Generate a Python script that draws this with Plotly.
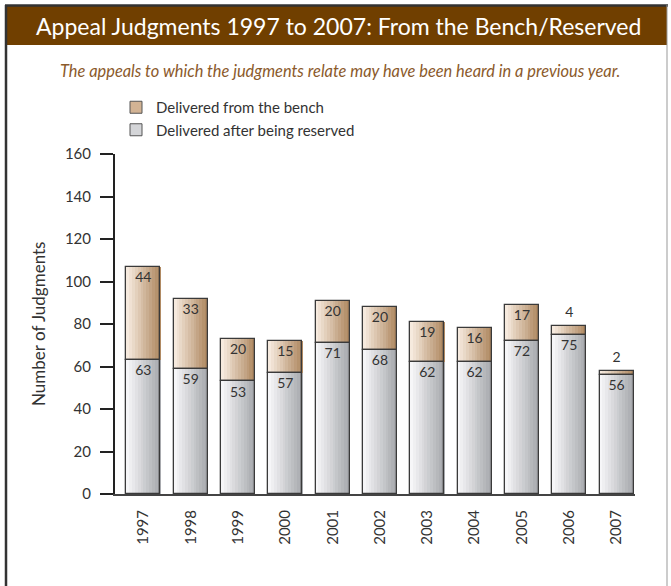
import plotly.graph_objects as go

years = [1997, 1998, 1999, 2000, 2001, 2002, 2003, 2004, 2005, 2006, 2007]
reserved = [63, 59, 53, 57, 71, 68, 62, 62, 72, 75, 56]
bench = [44, 33, 20, 15, 20, 20, 19, 16, 17, 4, 2]
totals = [r + b for r, b in zip(reserved, bench)]

W, H = 671, 586
L, R, T, B = 115, 36, 154, 92
FONT = "Lato"
BAR_W = 0.72
N_SLICES = 12


def px(x):
    return (x - L) / (W - L - R)


def py(y):
    return (H - B - y) / (H - T - B)


def mix(c1, c2, t):
    return "rgb({},{},{})".format(*[round(a + (b - a) * t) for a, b in zip(c1, c2)])


bench_cols = ((246, 234, 222), (176, 138, 99))
res_cols = ((246, 246, 248), (168, 170, 174))

fig = go.Figure()

# gradient fills, drawn as thin slices of each bar
for vals, base, cols in [(reserved, None, res_cols), (bench, reserved, bench_cols)]:
    for i in range(N_SLICES):
        t = i / (N_SLICES - 1)
        fig.add_trace(go.Bar(
            x=years, y=vals, base=base,
            width=BAR_W / N_SLICES * 1.08,
            offset=-BAR_W / 2 + i * BAR_W / N_SLICES,
            marker=dict(color=mix(cols[0], cols[1], t), line=dict(width=0)),
            showlegend=False, hoverinfo="skip",
        ))

# outlines
for vals, base in [(reserved, None), (bench, reserved)]:
    fig.add_trace(go.Bar(
        x=years, y=vals, base=base, width=BAR_W,
        marker=dict(color="rgba(0,0,0,0)", line=dict(color="#3a3a3a", width=1.3)),
        showlegend=False, hoverinfo="skip",
    ))

# legend entries
fig.add_trace(go.Bar(x=[None], y=[None], name="Delivered from the bench",
                     marker=dict(color="#d2b394", line=dict(color="#555", width=1))))
fig.add_trace(go.Bar(x=[None], y=[None], name="Delivered after being reserved",
                     marker=dict(color="#d4d5d8", line=dict(color="#555", width=1))))

# value labels
fig.add_trace(go.Scatter(
    x=years, y=[r - 5.5 for r in reserved], text=[str(v) for v in reserved],
    mode="text", textfont=dict(size=14, color="#333", family=FONT),
    showlegend=False, hoverinfo="skip",
))
fig.add_trace(go.Scatter(
    x=years, y=[t - 5.5 if b >= 10 else t + 6 for t, b in zip(totals, bench)],
    text=[str(v) for v in bench],
    mode="text", textfont=dict(size=14, color="#333", family=FONT),
    showlegend=False, hoverinfo="skip",
))

shapes = [
    dict(type="rect", xref="paper", yref="paper", x0=px(6), x1=px(667), y0=py(45), y1=py(6),
         fillcolor="#703f00", line=dict(width=0)),
    dict(type="line", xref="paper", yref="paper", x0=px(5), x1=px(668), y0=py(5.5), y1=py(5.5),
         line=dict(color="#333", width=2.5)),
    dict(type="line", xref="paper", yref="paper", x0=px(6), x1=px(6), y0=py(5), y1=py(590),
         line=dict(color="#333", width=2.5)),
    dict(type="line", xref="paper", yref="paper", x0=px(667), x1=px(667), y0=py(5), y1=py(590),
         line=dict(color="#999", width=1)),
]

fig.update_layout(
    width=W, height=H,
    margin=dict(l=L, r=R, t=T, b=B),
    barmode="overlay",
    bargap=0,
    paper_bgcolor="white", plot_bgcolor="white",
    font=dict(family=FONT, color="#333"),
    shapes=shapes,
    annotations=[
        dict(text="Appeal Judgments 1997 to 2007: From the Bench/Reserved",
             xref="paper", yref="paper", x=px(338), y=py(26), showarrow=False,
             xanchor="center", yanchor="middle",
             font=dict(size=23, color="white", family=FONT)),
        dict(text="<i>The appeals to which the judgments relate may have been heard in a previous year.</i>",
             xref="paper", yref="paper", x=px(340), y=py(70), showarrow=False,
             xanchor="center", yanchor="middle",
             font=dict(size=16.4, color="#8b5a2b", family=FONT)),
        dict(text="Number of Judgments", textangle=-90,
             xref="paper", yref="paper", x=px(38), y=py(324), showarrow=False,
             xanchor="center", yanchor="middle",
             font=dict(size=17, color="#333", family=FONT)),
    ],
    legend=dict(x=px(116), y=py(91), xanchor="left", yanchor="top",
                font=dict(size=15, color="#333", family=FONT),
                bgcolor="rgba(0,0,0,0)", tracegroupgap=0, itemclick=False),
    xaxis=dict(range=[1996.4, 2007.39], tickmode="array", tickvals=years,
               ticktext=[str(y) for y in years], tickangle=-90, ticks="",
               showline=True, linecolor="#444", linewidth=2, showgrid=False,
               zeroline=False, ticklabelstandoff=8,
               tickfont=dict(size=15, color="#333", family=FONT)),
    yaxis=dict(range=[0, 160], tickvals=list(range(0, 161, 20)), ticks="outside",
               ticklen=13, tickwidth=2, tickcolor="#222", showline=True,
               linecolor="#222", linewidth=2, showgrid=False, zeroline=False,
               ticklabelstandoff=6,
               tickfont=dict(size=15, color="#333", family=FONT)),
)

fig.write_html("out.html", config={"displayModeBar": False},
               post_script="document.body.style.margin='0';")
